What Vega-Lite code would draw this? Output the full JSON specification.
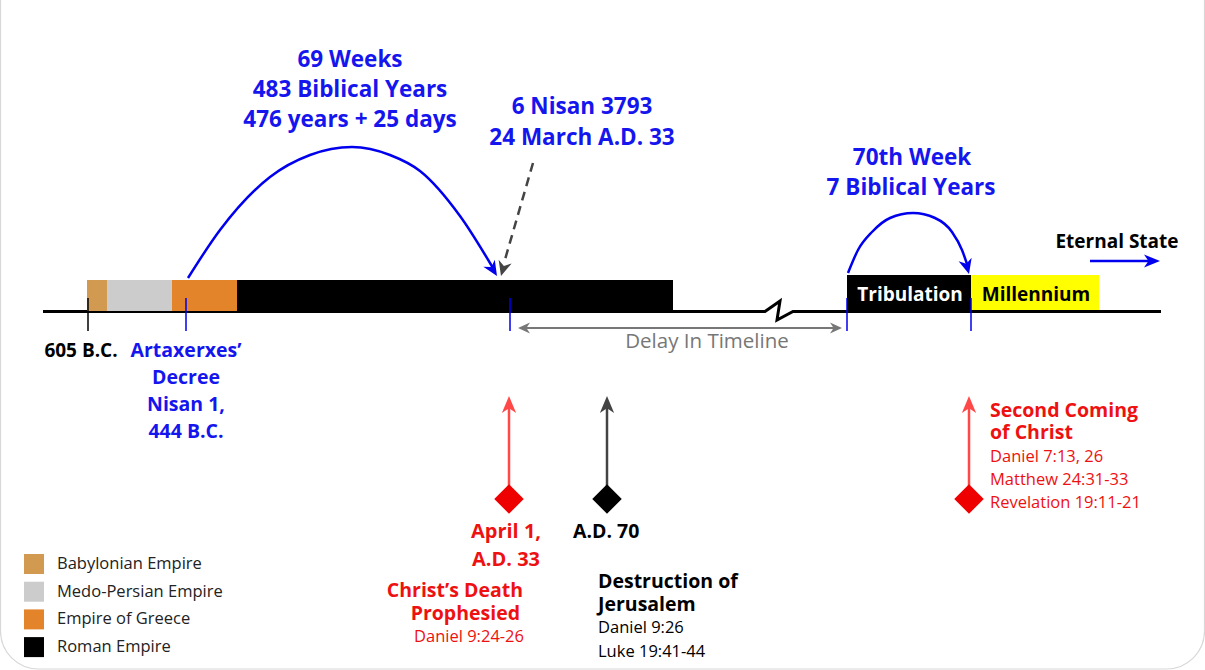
{
  "$schema": "https://vega.github.io/schema/vega-lite/v6.json",
  "width": 1205,
  "height": 670,
  "padding": 0,
  "autosize": {"type": "none"},
  "background": "white",
  "config": {"view": {"stroke": null}, "font": "Open Sans"},
  "encoding": {
    "x": {"field": "x", "type": "quantitative", "scale": {"domain": [0, 1205], "nice": false, "zero": false}, "axis": null},
    "y": {"field": "y", "type": "quantitative", "scale": {"domain": [0, 670], "nice": false, "zero": false, "reverse": true}, "axis": null}
  },
  "layer": [
    {
      "data": {"values": [{"x": 0.5, "x2": 1204.5, "y": -80, "y2": 669}]},
      "mark": {"type": "rect", "fill": "transparent", "stroke": "#d8d8d8", "strokeWidth": 1.2, "cornerRadius": 38},
      "encoding": {"x2": {"field": "x2"}, "y2": {"field": "y2"}}
    },
    {
      "data": {"values": [
        {"i": 1, "x": 43, "y": 311.5}, {"i": 2, "x": 765, "y": 311.5}, {"i": 3, "x": 780, "y": 301},
        {"i": 4, "x": 777, "y": 320}, {"i": 5, "x": 793, "y": 311.5}, {"i": 6, "x": 1161, "y": 311.5}
      ]},
      "mark": {"type": "line", "color": "black", "strokeWidth": 3, "strokeJoin": "miter"},
      "encoding": {"order": {"field": "i"}}
    },
    {
      "data": {"values": [
        {"x": 87, "x2": 107, "y": 280, "y2": 311, "empire": "Babylonian Empire"},
        {"x": 107, "x2": 172, "y": 280, "y2": 311, "empire": "Medo-Persian Empire"},
        {"x": 172, "x2": 237, "y": 280, "y2": 311, "empire": "Empire of Greece"},
        {"x": 237, "x2": 673, "y": 280, "y2": 311, "empire": "Roman Empire"}
      ]},
      "mark": {"type": "rect"},
      "encoding": {
        "x2": {"field": "x2"}, "y2": {"field": "y2"},
        "color": {
          "field": "empire", "type": "nominal",
          "scale": {"domain": ["Babylonian Empire", "Medo-Persian Empire", "Empire of Greece", "Roman Empire"], "range": ["#D29A50", "#CCCCCC", "#E3832A", "#000000"]},
          "legend": {"title": null, "orient": "none", "legendX": 24, "legendY": 554, "symbolType": "square", "symbolSize": 400, "symbolStrokeWidth": 0, "labelFontSize": 16.5, "labelColor": "#222222", "labelFont": "Open Sans", "labelOffset": 13, "labelLimit": 400, "rowPadding": 7.7, "padding": 0}
        }
      }
    },
    {
      "data": {"values": [{"x": 847, "x2": 971, "y": 275, "y2": 311}]},
      "mark": {"type": "rect", "color": "black"},
      "encoding": {"x2": {"field": "x2"}, "y2": {"field": "y2"}}
    },
    {
      "data": {"values": [{"x": 971, "x2": 1099, "y": 275, "y2": 310}]},
      "mark": {"type": "rect", "color": "#FFFF00"},
      "encoding": {"x2": {"field": "x2"}, "y2": {"field": "y2"}}
    },
    {
      "data": {"values": [{"x": 88, "x2": 88, "y": 298, "y2": 331}]},
      "mark": {"type": "rule", "color": "black", "strokeWidth": 1.5},
      "encoding": {"x2": {"field": "x2"}, "y2": {"field": "y2"}}
    },
    {
      "data": {"values": [
        {"x": 186, "x2": 186, "y": 298, "y2": 331},
        {"x": 510, "x2": 510, "y": 298, "y2": 331},
        {"x": 847, "x2": 847, "y": 298, "y2": 331},
        {"x": 971, "x2": 971, "y": 298, "y2": 331}
      ]},
      "mark": {"type": "rule", "color": "#0000EE", "strokeWidth": 1.5},
      "encoding": {"x2": {"field": "x2"}, "y2": {"field": "y2"}}
    },
    {
      "data": {"values": [
        {"x": 188, "y": 278}, {"x": 220, "y": 230}, {"x": 270, "y": 177}, {"x": 310, "y": 155},
        {"x": 352, "y": 147}, {"x": 390, "y": 155}, {"x": 420, "y": 171}, {"x": 460, "y": 216}, {"x": 493, "y": 268}
      ]},
      "mark": {"type": "line", "color": "#0000EE", "strokeWidth": 2.5, "interpolate": "monotone"},
      "encoding": {}
    },
    {
      "data": {"values": [
        {"x": 848, "y": 273}, {"x": 858, "y": 250}, {"x": 872, "y": 232}, {"x": 890, "y": 218},
        {"x": 913, "y": 213}, {"x": 935, "y": 218}, {"x": 952, "y": 232}, {"x": 962, "y": 250}, {"x": 967, "y": 264}
      ]},
      "mark": {"type": "line", "color": "#0000EE", "strokeWidth": 2.5, "interpolate": "monotone"},
      "encoding": {}
    },
    {
      "data": {"values": [{"x": 533, "x2": 504, "y": 163, "y2": 263}]},
      "mark": {"type": "rule", "color": "#444444", "strokeWidth": 2.5, "strokeDash": [9, 6]},
      "encoding": {"x2": {"field": "x2"}, "y2": {"field": "y2"}}
    },
    {
      "data": {"values": [{"x": 1090, "x2": 1152, "y": 261, "y2": 261}]},
      "mark": {"type": "rule", "color": "#0000EE", "strokeWidth": 2.5},
      "encoding": {"x2": {"field": "x2"}, "y2": {"field": "y2"}}
    },
    {
      "data": {"values": [{"x": 524, "x2": 836, "y": 328, "y2": 328}]},
      "mark": {"type": "rule", "color": "#777777", "strokeWidth": 2},
      "encoding": {"x2": {"field": "x2"}, "y2": {"field": "y2"}}
    },
    {
      "data": {"values": [{"x": 509, "x2": 509, "y": 405, "y2": 492}, {"x": 969, "x2": 969, "y": 405, "y2": 492}]},
      "mark": {"type": "rule", "color": "#FF4848", "strokeWidth": 2.5},
      "encoding": {"x2": {"field": "x2"}, "y2": {"field": "y2"}}
    },
    {
      "data": {"values": [{"x": 607, "x2": 607, "y": 405, "y2": 492}]},
      "mark": {"type": "rule", "color": "#444444", "strokeWidth": 2.5},
      "encoding": {"x2": {"field": "x2"}, "y2": {"field": "y2"}}
    },
    {
      "data": {"values": [{"x": 509, "y": 396}, {"x": 969, "y": 396}]},
      "mark": {"type": "point", "filled": true, "opacity": 1, "color": "#FF4848", "shape": "M0,0L0.42,1L0,0.72L-0.42,1Z", "size": 1156, "angle": 0},
      "encoding": {}
    },
    {
      "data": {"values": [{"x": 607, "y": 396}]},
      "mark": {"type": "point", "filled": true, "opacity": 1, "color": "#444444", "shape": "M0,0L0.42,1L0,0.72L-0.42,1Z", "size": 1156, "angle": 0},
      "encoding": {}
    },
    {
      "data": {"values": [{"x": 509, "y": 499}, {"x": 969, "y": 499}]},
      "mark": {"type": "point", "filled": true, "opacity": 1, "color": "#EE0000", "shape": "diamond", "size": 870},
      "encoding": {}
    },
    {
      "data": {"values": [{"x": 607, "y": 499}]},
      "mark": {"type": "point", "filled": true, "opacity": 1, "color": "black", "shape": "diamond", "size": 870},
      "encoding": {}
    },
    {
      "data": {"values": [{"x": 497, "y": 276}]},
      "mark": {"type": "point", "filled": true, "opacity": 1, "color": "#0000EE", "shape": "M0,0L0.45,1L0,0.7L-0.45,1Z", "size": 900, "angle": 148},
      "encoding": {}
    },
    {
      "data": {"values": [{"x": 969, "y": 274}]},
      "mark": {"type": "point", "filled": true, "opacity": 1, "color": "#0000EE", "shape": "M0,0L0.45,1L0,0.7L-0.45,1Z", "size": 900, "angle": 165},
      "encoding": {}
    },
    {
      "data": {"values": [{"x": 501, "y": 276}]},
      "mark": {"type": "point", "filled": true, "opacity": 1, "color": "#444444", "shape": "M0,0L0.45,1L0,0.7L-0.45,1Z", "size": 900, "angle": 196},
      "encoding": {}
    },
    {
      "data": {"values": [{"x": 1160, "y": 261}]},
      "mark": {"type": "point", "filled": true, "opacity": 1, "color": "#0000EE", "shape": "M0,0L0.4,1L0,0.72L-0.4,1Z", "size": 1024, "angle": 90},
      "encoding": {}
    },
    {
      "data": {"values": [{"x": 842, "y": 328}]},
      "mark": {"type": "point", "filled": true, "opacity": 1, "color": "#777777", "shape": "M0,0L0.45,1L0,0.7L-0.45,1Z", "size": 576, "angle": 90},
      "encoding": {}
    },
    {
      "data": {"values": [{"x": 518, "y": 328}]},
      "mark": {"type": "point", "filled": true, "opacity": 1, "color": "#777777", "shape": "M0,0L0.45,1L0,0.7L-0.45,1Z", "size": 576, "angle": 270},
      "encoding": {}
    },
    {
      "data": {"values": [
        {"x": 350, "y": 60, "t": "69 Weeks"},
        {"x": 350, "y": 90, "t": "483 Biblical Years"},
        {"x": 350, "y": 120, "t": "476 years + 25 days"},
        {"x": 582, "y": 107, "t": "6 Nisan 3793"},
        {"x": 582, "y": 138, "t": "24 March A.D. 33"},
        {"x": 912, "y": 158, "t": "70th Week"},
        {"x": 911, "y": 188, "t": "7 Biblical Years"}
      ]},
      "mark": {"type": "text", "font": "Open Sans", "fontWeight": "bold", "fontSize": 22.5, "color": "#1515EE", "align": "center", "baseline": "middle"},
      "encoding": {"text": {"field": "t"}}
    },
    {
      "data": {"values": [
        {"x": 186, "y": 351, "t": "Artaxerxes’"},
        {"x": 186, "y": 378, "t": "Decree"},
        {"x": 186, "y": 405, "t": "Nisan 1,"},
        {"x": 186, "y": 432, "t": "444 B.C."}
      ]},
      "mark": {"type": "text", "font": "Open Sans", "fontWeight": "bold", "fontSize": 19.5, "color": "#1515EE", "align": "center", "baseline": "middle"},
      "encoding": {"text": {"field": "t"}}
    },
    {
      "data": {"values": [
        {"x": 81, "y": 351, "t": "605 B.C."},
        {"x": 1117, "y": 242, "t": "Eternal State"},
        {"x": 1036, "y": 295, "t": "Millennium"}
      ]},
      "mark": {"type": "text", "font": "Open Sans", "fontWeight": "bold", "fontSize": 19, "color": "black", "align": "center", "baseline": "middle"},
      "encoding": {"text": {"field": "t"}}
    },
    {
      "data": {"values": [{"x": 910, "y": 295, "t": "Tribulation"}]},
      "mark": {"type": "text", "font": "Open Sans", "fontWeight": "bold", "fontSize": 19, "color": "white", "align": "center", "baseline": "middle"},
      "encoding": {"text": {"field": "t"}}
    },
    {
      "data": {"values": [{"x": 707, "y": 342, "t": "Delay In Timeline"}]},
      "mark": {"type": "text", "font": "Open Sans", "fontSize": 20.5, "color": "#777777", "align": "center", "baseline": "middle"},
      "encoding": {"text": {"field": "t"}}
    },
    {
      "data": {"values": [
        {"x": 506, "y": 532, "t": "April 1,"},
        {"x": 506, "y": 560, "t": "A.D. 33"}
      ]},
      "mark": {"type": "text", "font": "Open Sans", "fontWeight": "bold", "fontSize": 20, "color": "#EE1111", "align": "center", "baseline": "middle"},
      "encoding": {"text": {"field": "t"}}
    },
    {
      "data": {"values": [
        {"x": 523, "y": 591, "t": "Christ’s Death"},
        {"x": 520, "y": 614, "t": "Prophesied"}
      ]},
      "mark": {"type": "text", "font": "Open Sans", "fontWeight": "bold", "fontSize": 19.5, "color": "#EE1111", "align": "right", "baseline": "middle"},
      "encoding": {"text": {"field": "t"}}
    },
    {
      "data": {"values": [{"x": 524, "y": 637, "t": "Daniel 9:24-26"}]},
      "mark": {"type": "text", "font": "Open Sans", "fontSize": 16.5, "color": "#EE1111", "align": "right", "baseline": "middle"},
      "encoding": {"text": {"field": "t"}}
    },
    {
      "data": {"values": [
        {"x": 990, "y": 411, "t": "Second Coming"},
        {"x": 990, "y": 433, "t": "of Christ"}
      ]},
      "mark": {"type": "text", "font": "Open Sans", "fontWeight": "bold", "fontSize": 19.5, "color": "#EE1111", "align": "left", "baseline": "middle"},
      "encoding": {"text": {"field": "t"}}
    },
    {
      "data": {"values": [
        {"x": 990, "y": 457, "t": "Daniel 7:13, 26"},
        {"x": 990, "y": 480, "t": "Matthew 24:31-33"},
        {"x": 990, "y": 503, "t": "Revelation 19:11-21"}
      ]},
      "mark": {"type": "text", "font": "Open Sans", "fontSize": 16.5, "color": "#EE1111", "align": "left", "baseline": "middle"},
      "encoding": {"text": {"field": "t"}}
    },
    {
      "data": {"values": [
        {"x": 573, "y": 532, "t": "A.D. 70"},
        {"x": 598, "y": 582, "t": "Destruction of"},
        {"x": 598, "y": 605, "t": "Jerusalem"}
      ]},
      "mark": {"type": "text", "font": "Open Sans", "fontWeight": "bold", "fontSize": 19.5, "color": "black", "align": "left", "baseline": "middle"},
      "encoding": {"text": {"field": "t"}}
    },
    {
      "data": {"values": [
        {"x": 598, "y": 628, "t": "Daniel 9:26"},
        {"x": 598, "y": 652, "t": "Luke 19:41-44"}
      ]},
      "mark": {"type": "text", "font": "Open Sans", "fontSize": 16.5, "color": "black", "align": "left", "baseline": "middle"},
      "encoding": {"text": {"field": "t"}}
    }
  ]
}
